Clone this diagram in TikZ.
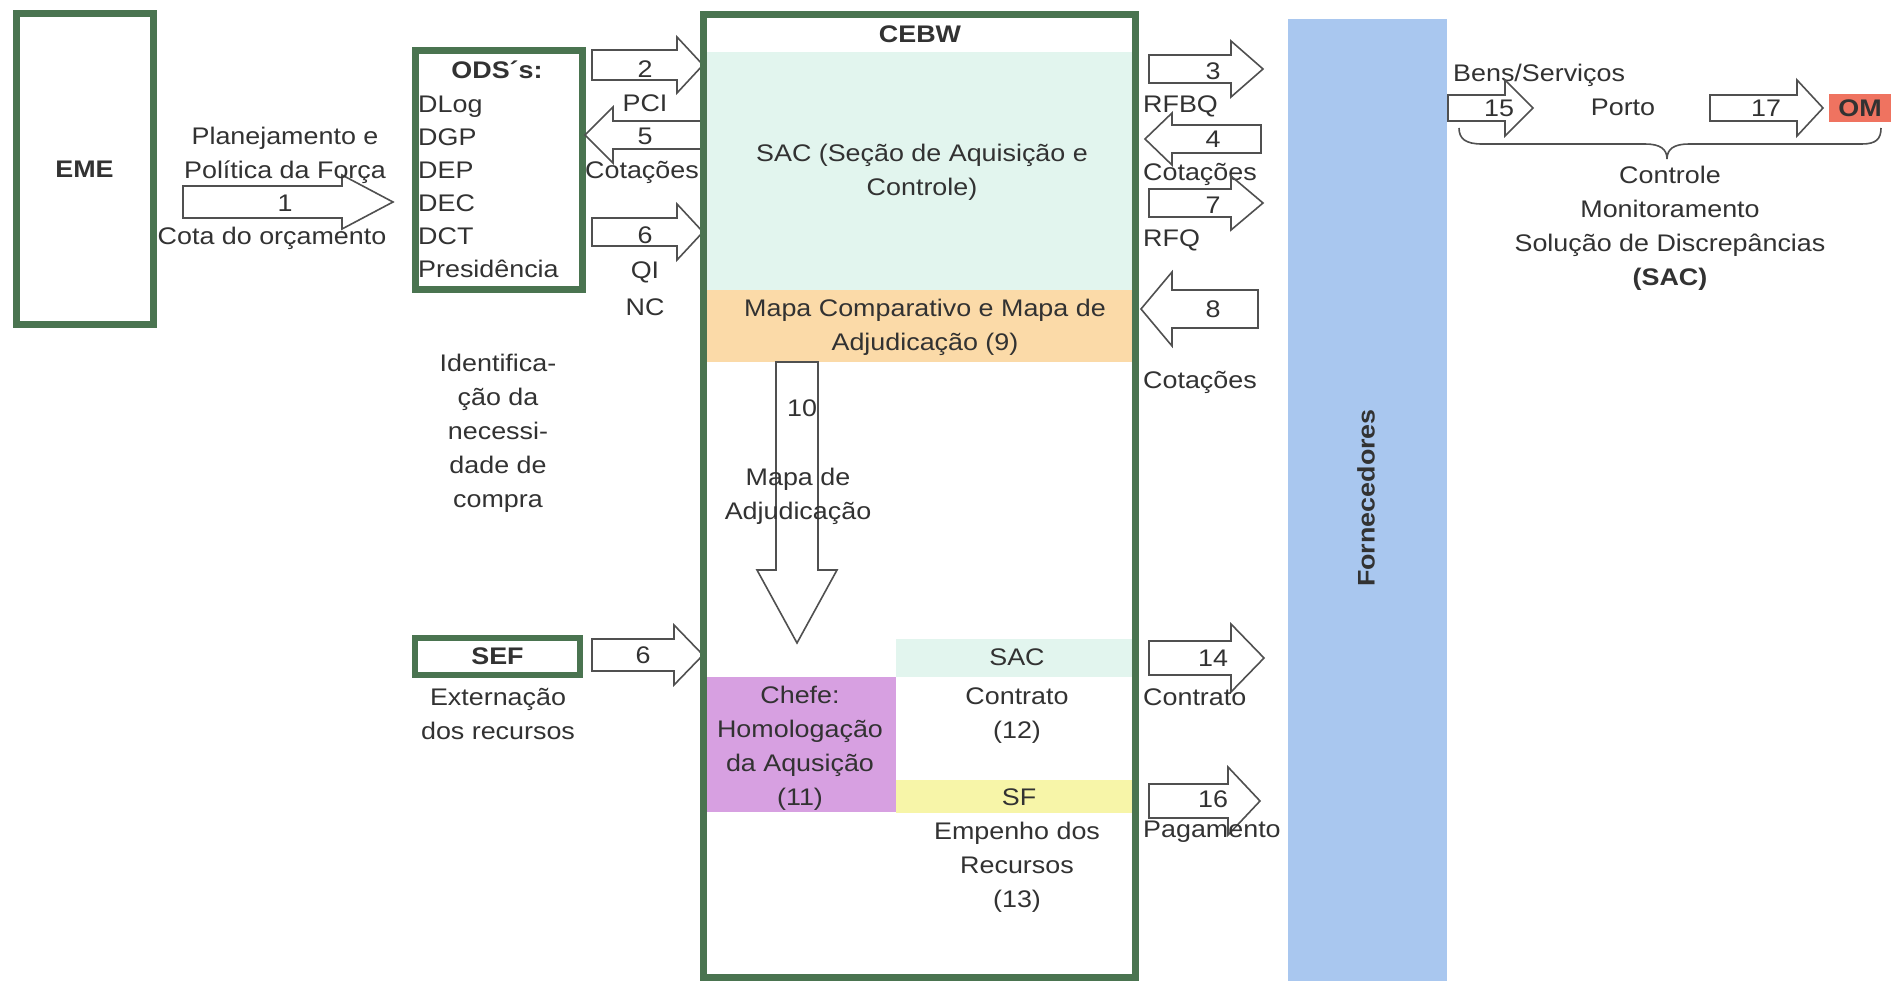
\documentclass[tikz,border=0pt]{standalone}
\usepackage{fontspec}
\setmainfont{Liberation Sans}[FakeStretch=1.12]
\definecolor{grn}{RGB}{74,116,80}
\definecolor{tc}{RGB}{50,50,50}
\definecolor{ac}{RGB}{80,80,80}
\definecolor{mint}{RGB}{226,245,238}
\definecolor{orng}{RGB}{251,218,168}
\definecolor{viol}{RGB}{215,160,225}
\definecolor{yel}{RGB}{247,245,168}
\definecolor{blu}{RGB}{169,199,239}
\definecolor{salm}{RGB}{239,115,96}
\tikzset{
  txt/.style={font=\fontsize{24}{34}\selectfont, text=tc, align=center, inner sep=0pt},
  btxt/.style={txt, font=\fontsize{24}{34}\selectfont\bfseries},
  gbox/.style={draw=grn, line width=7pt, inner sep=0pt},
  blk/.style={draw=ac, line width=1.6pt, line join=miter},
}
% horizontal block arrow: start x, head-base x, tip x, centre y, body half, head half
\newcommand{\blkH}[6]{\draw[blk] (#1,#4-#5) -- (#2,#4-#5) -- (#2,#4-#6) -- (#3,#4) -- (#2,#4+#6) -- (#2,#4+#5) -- (#1,#4+#5) -- cycle;}
% vertical block arrow: start y, head-base y, tip y, centre x, body half, head half
\newcommand{\blkV}[6]{\draw[blk] (#4-#5,#1) -- (#4-#5,#2) -- (#4-#6,#2) -- (#4,#3) -- (#4+#6,#2) -- (#4+#5,#2) -- (#4+#5,#1) -- cycle;}
\begin{document}
\begin{tikzpicture}[x=1pt,y=-1pt]
\useasboundingbox (0,0) rectangle (1891,981);
\fill[white] (0,0) rectangle (1891,981);

% ---------- EME ----------
\node[gbox, minimum width=137pt, minimum height=311pt, btxt] (eme) at (84.5,169.5) {EME};
\blkH{183}{342}{393}{202}{16}{27}
\node[txt] (l1a) at (285,155.5) {Planejamento e\\Política da Força};
\node[txt] (n1) at (285,203) {1};
\node[txt] (l1b) at (272,238) {Cota do orçamento};

% ---------- ODS ----------
\node[gbox, minimum width=167pt, minimum height=239pt] (ods) at (498.5,170.5) {};
\node[btxt] (odst) at (497,70) {ODS´s:};
\node[txt, font=\fontsize{24}{33}\selectfont, align=left, anchor=west] (odsl) at (418,186.5) {DLog\\DGP\\DEP\\DEC\\DCT\\Presidência};
\node[txt] (ident) at (498,433) {Identifica-\\ção da\\necessi-\\dade de\\compra};

\blkH{592}{677}{703}{65}{15}{28}
\node[txt] (n2) at (645,69) {2};
\node[txt] (pci) at (645,103) {PCI};
\blkH{703}{613}{585}{135}{14}{28}
\node[txt] (n5) at (645,136) {5};
\node[txt] (cot5) at (642,172) {Cotações};
\blkH{592}{677}{703}{232}{14}{28}
\node[txt] (n6) at (645,235) {6};
\node[txt] (qi) at (645,272) {QI};
\node[txt] (nc) at (645,307) {NC};

% ---------- SEF ----------
\node[gbox, line width=6pt, minimum width=165pt, minimum height=37pt, btxt] (sef) at (497.5,656.5) {SEF};
\node[txt] (ext) at (498,714) {Externação\\dos recursos};
\blkH{592}{674}{703}{655}{16}{30}
\node[txt] (n6b) at (643,655) {6};

% ---------- CEBW ----------
\fill[mint] (703,52) rectangle (1135,290);
\fill[orng] (703,290) rectangle (1135,362);
\fill[mint] (896,639) rectangle (1135,677);
\fill[viol] (703,677) rectangle (896,812);
\fill[yel] (896,780) rectangle (1135,813);
\node[gbox, minimum width=432pt, minimum height=962pt] (cebw) at (919,496) {};
\node[btxt] (cebwt) at (920,34) {CEBW};
\node[txt] (sac) at (922,172.5) {SAC (Seção de Aquisição e\\Controle)};
\node[txt] (mapa) at (925,327) {Mapa Comparativo e Mapa de\\Adjudicação (9)};
\blkV{362}{570}{643}{797}{21}{40}
\node[txt] (n10) at (802,408) {10};
\node[txt] (mapa2) at (798,496) {Mapa de\\Adjudicação};
\node[txt] (sac2) at (1017,657) {SAC};
\node[txt] (contr) at (1017,716) {Contrato\\(12)};
\node[txt] (chefe) at (800,748.5) {Chefe:\\Homologação\\da Aqusição\\(11)};
\node[txt] (sf) at (1019,797) {SF};
\node[txt] (emp) at (1017,867.5) {Empenho dos\\Recursos\\(13)};

% ---------- right arrows ----------
\blkH{1149}{1231}{1263}{69}{14}{28}
\node[txt] (n3) at (1213,71) {3};
\node[txt, anchor=west] (rfbq) at (1143,106) {RFBQ};
\blkH{1261}{1172}{1145}{139}{14}{26}
\node[txt] (n4) at (1213,139) {4};
\node[txt, anchor=west] (cot4) at (1143,174) {Cotações};
\blkH{1149}{1231}{1263}{203}{14}{27}
\node[txt] (n7) at (1213,205) {7};
\node[txt, anchor=west] (rfq) at (1143,240) {RFQ};
\blkH{1258}{1172}{1141}{309}{19}{37}
\node[txt] (n8) at (1213,309) {8};
\node[txt, anchor=west] (cot8) at (1143,382) {Cotações};
\blkH{1149}{1231}{1264}{658}{17}{34}
\node[txt] (n14) at (1213,658) {14};
\node[txt, anchor=west] (contr2) at (1143,697) {Contrato};
\blkH{1149}{1228}{1260}{801}{17}{34}
\node[txt] (n16) at (1213,799) {16};
\node[txt, anchor=west] (pag) at (1143,832) {Pagamento};

% ---------- Fornecedores ----------
\fill[blu] (1288,19) rectangle (1447,981);
\node[btxt, rotate=90] (forn) at (1366,498) {Fornecedores};

% ---------- delivery ----------
\node[txt, anchor=west] (bens) at (1453,75) {Bens/Serviços};
\blkH{1448}{1505}{1533}{108}{13}{28}
\node[txt] (n15) at (1499,108) {15};
\node[txt] (porto) at (1623,107) {Porto};
\blkH{1710}{1797}{1823}{108}{13}{28}
\node[txt] (n17) at (1766,108) {17};
\node[fill=salm, minimum width=62pt, minimum height=28pt, inner sep=0pt, btxt] (om) at (1860,108.5) {OM};
\draw[ac, line width=1.6pt] (1459,128) .. controls (1459,139) and (1466,144) .. (1482,144) -- (1645,144) .. controls (1660,144) and (1667,149) .. (1667,159) .. controls (1667,149) and (1674,144) .. (1689,144) -- (1862,144) .. controls (1876,144) and (1881,139) .. (1881,128);
\node[txt] (ctrl) at (1670,228) {Controle\\Monitoramento\\Solução de Discrepâncias\\\textbf{(SAC)}};
\end{tikzpicture}
\end{document}
